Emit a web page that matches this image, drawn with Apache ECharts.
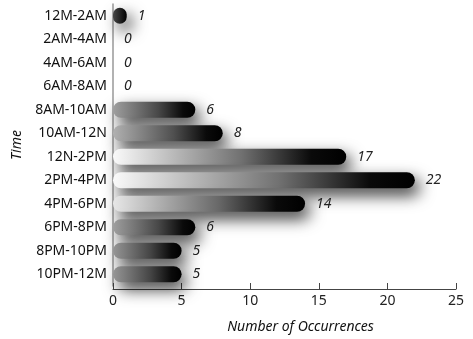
<!DOCTYPE html>
<html>
<head>
<meta charset="utf-8">
<script src="https://cdn.jsdelivr.net/npm/echarts@6/dist/echarts.min.js"></script>
<style>html,body{margin:0;padding:0;background:#fff}#c{width:473px;height:339px}</style>
</head>
<body>
<div id="c"></div>
<script>
var categories = ['12M-2AM','2AM-4AM','4AM-6AM','6AM-8AM','8AM-10AM','10AM-12N','12N-2PM','2PM-4PM','4PM-6PM','6PM-8PM','8PM-10PM','10PM-12M'];
var values = [1, 0, 0, 0, 6, 8, 17, 22, 14, 6, 5, 5];
var xTicks = [0, 5, 10, 15, 20, 25];

function barStyle(v) {
  var l = Math.min(250, Math.round(105 + v * 9));
  if (v <= 1) l = 70;
  var c0 = 'rgb(' + l + ',' + l + ',' + l + ')';
  var lm = Math.round(l * 0.45);
  var cm = 'rgb(' + lm + ',' + lm + ',' + lm + ')';
  return {
    color: new echarts.graphic.LinearGradient(0, 0, 1, 0, [
      {offset: 0, color: c0},
      {offset: 0.55, color: cm},
      {offset: 0.85, color: '#0a0a0a'},
      {offset: 1, color: '#000'}
    ]),
    borderRadius: 8,
    shadowColor: 'rgba(0,0,0,0.8)',
    shadowBlur: 16,
    shadowOffsetX: 5,
    shadowOffsetY: 7
  };
}

var chart = echarts.init(document.getElementById('c'), null, {renderer: 'canvas'});
chart.setOption({
  backgroundColor: '#fff',
  animation: false,
  grid: {left: 113, right: 17, top: 4, bottom: 49, containLabel: false},
  xAxis: {
    type: 'value', min: xTicks[0], max: xTicks[xTicks.length - 1], interval: 5,
    offset: 3,
    name: 'Number of Occurrences', nameLocation: 'middle', nameGap: 31,
    nameTextStyle: {fontFamily: 'Noto Sans', fontStyle: 'italic', fontSize: 14, color: '#111', padding: [0, 0, 0, 32]},
    axisLine: {show: true, lineStyle: {color: '#444', width: 1}},
    axisTick: {show: true, inside: true, length: 6, lineStyle: {color: '#444'}},
    axisLabel: {fontFamily: 'Noto Sans', fontSize: 14, color: '#222', margin: 5},
    splitLine: {show: false}
  },
  yAxis: {
    type: 'category', data: categories, inverse: true,
    name: 'Time', nameLocation: 'middle', nameGap: 85,
    nameTextStyle: {fontFamily: 'Noto Sans', fontStyle: 'italic', fontSize: 14, color: '#111'},
    axisLine: {show: true, lineStyle: {color: '#999', width: 1.5}},
    axisTick: {show: false},
    axisLabel: {fontFamily: 'Noto Sans', fontSize: 14, color: '#111', margin: 6}
  },
  series: [{
    type: 'bar',
    barWidth: 16,
    data: values.map(function (v) { return {value: v, itemStyle: barStyle(v)}; }),
    label: {
      show: true, position: 'right', distance: 11,
      fontFamily: 'Noto Sans', fontStyle: 'italic', fontSize: 14, color: '#222'
    }
  }]
});
</script>
</body>
</html>
